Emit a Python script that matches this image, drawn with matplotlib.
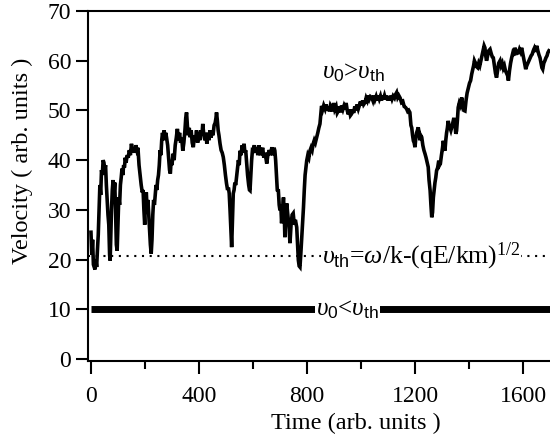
import matplotlib
matplotlib.use("Agg")
import matplotlib.pyplot as plt
from matplotlib.ticker import MultipleLocator

plt.rcParams['font.family'] = ['Liberation Serif', 'DejaVu Serif']
plt.rcParams['mathtext.fontset'] = 'custom'
plt.rcParams['mathtext.rm'] = 'Liberation Serif'
plt.rcParams['mathtext.it'] = 'Liberation Serif:italic'
plt.rcParams['mathtext.sf'] = 'Liberation Sans'

# upper trace (v0 > vth): time, velocity
trace = [(0,25.5),(3,21),(6,24),(9,19),(12,18.5),(15,18),(18,20),(21,18.5),(24,22),(27,25),(30,30),(33,35),(36,33),(39,38),(42,37),(45,40),(48,39.5),(51,38),(54,39),(57,35),(60,32),(63,29),(66,27),(69,21),(71,19.8),(73,24),(76,30),(79,34),(82,36),(85,33),(88,35.5),(91,30),(94,23),(97,21.8),(100,27),(103,32.5),(106,31),(109,35),(112,36.5),(115,38.3),(118,37),(121,39),(124,38.5),(127,40.5),(130,39.5),(134,41),(138,40.5),(142,42),(146,41),(150,43.3),(154,41.5),(158,42.5),(162,41.5),(166,43),(170,42),(174,42.5),(178,39),(182,37),(186,35),(190,33.5),(193,34),(196,30),(199,27),(202,32),(205,33.5),(208,30),(211,32),(214,29),(217,26),(220,23),(223,21.2),(226,24),(229,29),(232,32),(235,31),(238,33),(241,35),(244,34),(247,36),(250,37),(253,39),(256,42),(259,41),(262,44),(265,45.5),(268,44),(271,46),(274,44.5),(277,45.5),(280,44.5),(284,43),(288,40),(291,38),(294,37.3),(297,40),(300,39),(304,41.3),(308,40),(312,43),(316,44.5),(320,46.3),(324,44),(328,45.5),(332,43.5),(336,44.5),(340,41.9),(344,43.5),(348,46),(351,48.5),(354,49.6),(357,47),(360,45),(364,46.5),(367,44.6),(371,46),(375,43.5),(379,42.6),(383,45),(387,44),(391,46),(395,43.5),(399,45.5),(403,44),(407,46),(411,45),(414,47.3),(418,45),(422,44),(426,45.5),(429,43.3),(433,45.5),(437,44),(441,46),(445,44.5),(448,45.9),(452,45),(456,47),(460,47.5),(463,48.5),(465,49.6),(468,48),(471,46),(474,45),(478,43.3),(482,42),(486,41.5),(490,40.6),(494,39),(498,37),(502,35.3),(506,34),(509,34.5),(512,33.3),(515,30),(518,26),(521,22.5),(524,28),(527,33.3),(530,34),(533,35.5),(536,35),(539,36.6),(542,38),(546,40),(549,39),(552,41.9),(556,41),(560,43),(564,42),(567,43.3),(570,41.5),(573,42),(576,39.9),(580,37),(584,35),(587,34),(589,33.9),(592,37),(595,40),(598,42),(601,41.9),(605,43),(609,41.5),(614,42.6),(618,41),(622,43),(627,41),(632,41.9),(636,42.5),(640,40.5),(645,41.5),(651,39.3),(655,41),(660,42),(665,41),(670,42.6),(674,41),(678,42.5),(681,41.9),(684,39.9),(687,37),(690,34),(694,33.9),(697,31),(700,29.9),(703,31),(706,27.3),(709,30),(713,32.5),(716,29),(718,24.5),(721,28),(725,31.3),(729,29),(733,27),(737,23.3),(741,27),(745,29),(749,29.3),(753,27),(757,28),(762,26.5),(765,23),(768,19.9),(771,18.7),(774,18.5),(777,21),(780,23.9),(784,28),(787,30.5),(790,34),(793,37),(796,38.5),(799,39.9),(803,41),(807,40.5),(811,41.9),(815,42.5),(819,42),(823,43.3),(827,44),(831,43.5),(836,44.6),(840,45.5),(844,46.5),(848,47.3),(851,49),(854,50.9),(858,50.2),(862,51),(867,50.3),(871,51.2),(875,50),(879,50.8),(883,49.8),(887,51),(891,50.6),(895,49.8),(899,51.5),(903,50.2),(908,50.8),(912,49.5),(916,49.9),(920,50.8),(924,49.6),(928,51),(933,50.2),(937,50.9),(941,50.3),(945,51.5),(949,50),(953,49.2),(957,50.2),(961,49),(965,49.3),(969,50.2),(973,49.5),(977,50.8),(981,50),(985,51.2),(990,50.3),(994,51),(998,51.8),(1002,51),(1006,52),(1010,51.2),(1015,51.6),(1019,52.5),(1023,52),(1027,53),(1031,52.3),(1035,52.8),(1040,52.6),(1044,52),(1048,53),(1052,52.2),(1056,52.8),(1060,52),(1064,53),(1068,52.3),(1072,52.9),(1076,52),(1080,53),(1083,52.3),(1087,53),(1091,52.2),(1095,53),(1099,52),(1103,52.8),(1107,52),(1111,53),(1115,52.3),(1119,52.9),(1124,52.5),(1128,53.2),(1132,53.6),(1136,52.6),(1140,53),(1145,52.5),(1150,51.6),(1155,51.8),(1160,50.8),(1165,50.6),(1169,50.3),(1173,49.8),(1177,50),(1181,49.6),(1185,47),(1188,46.5),(1191,45),(1194,43.9),(1197,43.5),(1200,42.6),(1203,44.5),(1206,45.5),(1209,46),(1212,46.6),(1215,45.5),(1218,44),(1221,45),(1225,44.6),(1229,43),(1233,42),(1237,41.3),(1241,40.5),(1245,39.5),(1249,38.6),(1252,36),(1256,33.9),(1259,31),(1262,28.5),(1265,29.5),(1268,32.5),(1271,34),(1274,35.5),(1277,36.5),(1280,37.9),(1284,38.5),(1288,39.9),(1291,39),(1294,39.3),(1298,41),(1302,42.5),(1305,43.9),(1308,42.5),(1311,41.9),(1314,44),(1317,45.5),(1320,46.5),(1323,47.9),(1326,47),(1330,46.5),(1333,46),(1336,46.6),(1340,47.5),(1344,48.5),(1348,47.3),(1351,45.3),(1354,45.9),(1357,48),(1360,50.6),(1364,51.5),(1368,51),(1373,52.6),(1377,51),(1381,50),(1385,49.9),(1389,52),(1393,53.5),(1398,54.6),(1402,55.5),(1406,56),(1410,57.3),(1413,58),(1417,59),(1420,60),(1424,59.5),(1428,58.8),(1432,58.6),(1436,59.5),(1440,59),(1444,60),(1448,61),(1452,62),(1456,63),(1459,62.6),(1462,61),(1465,60),(1469,61),(1473,62),(1478,62.3),(1482,61.5),(1486,60.8),(1490,60.6),(1494,59),(1498,57.5),(1502,56.6),(1506,58),(1510,59.5),(1515,60),(1519,59),(1523,59.5),(1527,58.5),(1531,59),(1535,58),(1539,57.5),(1543,57),(1546,56),(1550,58),(1554,59.5),(1558,60.6),(1562,61.5),(1566,61),(1570,62.6),(1574,62),(1579,61.5),(1583,61.6),(1587,62.3),(1591,61.8),(1595,62.6),(1599,61.5),(1603,60.5),(1607,59.2),(1610,58.3),(1614,59),(1618,59.5),(1622,60),(1626,60.5),(1630,61),(1634,61.3),(1638,62),(1642,62.5),(1646,61.8),(1651,63),(1655,62),(1659,61.2),(1663,60.6),(1667,59.5),(1670,58.6),(1673,58.3),(1677,59.5),(1681,60),(1685,60.6),(1689,61),(1692,61.6),(1696,62)]
upper_t = [p[0] for p in trace]
upper_v = [p[1] for p in trace]

# lower trace (v0 < vth)
lower_t = [0, 200, 400, 600, 800, 1000, 1200, 1400, 1600, 1700]
lower_v = [10.0, 10.0, 10.0, 10.0, 10.0, 10.0, 10.0, 10.0, 10.0, 10.0]

# threshold
v_th = 20.7
th_t = [-11, 1700]

x_ticks = [0, 400, 800, 1200, 1600]
y_ticks = [0, 10, 20, 30, 40, 50, 60, 70]

fig = plt.figure(figsize=(5.5, 4.36), dpi=100)
ax = fig.add_axes([88/550, 75/436, 462/550, 350/436])

ax.plot(lower_t, lower_v, color='black', lw=5.0, solid_capstyle='butt')
ax.plot(th_t, [v_th, v_th], color='black', lw=1.5, linestyle=(0, (1, 2.7)))
ax.plot(upper_t, upper_v, color='black', lw=2.6, solid_joinstyle='miter')

ax.set_xlim(-11, 1700)
ax.set_ylim(-0.4, 70)
ax.set_xticks(x_ticks)
ax.set_yticks(y_ticks)
ax.xaxis.set_minor_locator(MultipleLocator(200))
ax.tick_params(axis='both', which='major', direction='out', length=9, width=1.5,
               labelsize=17, pad=3, color='black')
ax.tick_params(axis='x', which='minor', direction='out', length=6, width=1.5)
ax.tick_params(axis='x', pad=9)
for side in ['left', 'top', 'bottom']:
    ax.spines[side].set_linewidth(1.5)
ax.spines['right'].set_visible(False)

fig.text(22/550, 1 - 161/436, 'Velocity ( arb. units )', fontsize=17.5, rotation=90,
         ha='center', va='center')
fig.text(356/550, 1 - 423/436, 'Time (arb. units )', fontsize=17.5, ha='center', va='center')

bb = dict(facecolor='white', edgecolor='none', pad=0.5)
ax.text(855, 57.6, r'$\upsilon_{\mathsf{0}}$>$\upsilon_{\mathsf{th}}$', fontsize=18, ha='left', va='center')
ax.text(855, 20.6, r'$\upsilon_{\mathsf{th}}$=$\omega$/k-(qE/km)$^{1/2}$', fontsize=18.5, ha='left', va='center', bbox=bb)
ax.text(833, 10.0, r'$\upsilon_{\mathsf{0}}$<$\upsilon_{\mathsf{th}}$', fontsize=18, ha='left', va='center', bbox=bb)

fig.savefig('out.png', dpi=100)
